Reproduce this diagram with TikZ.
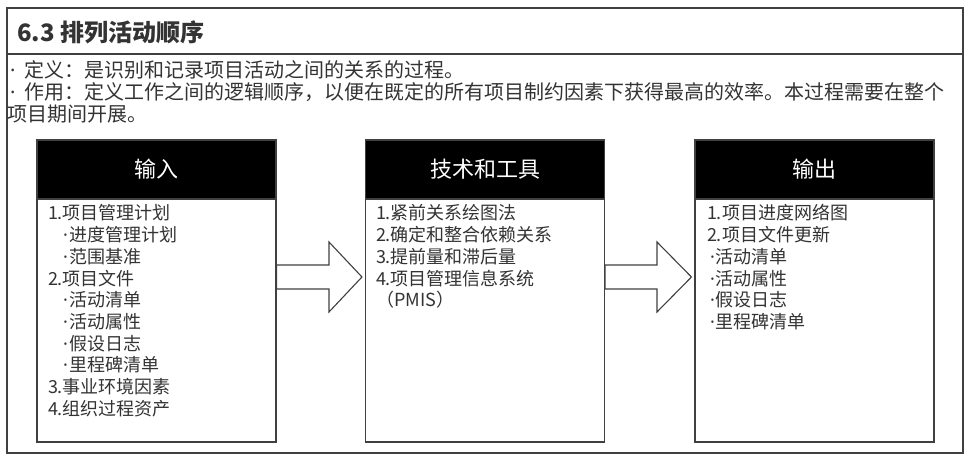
\documentclass[tikz,border=0pt]{standalone}
\usepackage{fontspec}
\setmainfont{Noto Sans CJK SC}
\newfontfamily\latinfont{Noto Sans}
\newcommand\mdot{{\latinfont ·}}
\usetikzlibrary{calc}
\definecolor{ink}{RGB}{51,51,51}
\definecolor{rule}{RGB}{64,64,64}
\begin{document}
\begin{tikzpicture}[x=1pt,y=-1pt,
  txt/.style={inner sep=0pt,outer sep=0pt,anchor=base west,text=ink},
  desc/.style={txt,font=\fontsize{20}{24}\selectfont},
  item/.style={txt,font=\fontsize{18}{21}\selectfont},
  box/.style={draw=rule,line width=1.1pt,fill=white,minimum width=239pt,minimum height=302pt,inner sep=0pt},
  head/.style={draw=rule,line width=1.1pt,fill=black,text=white,minimum width=239pt,minimum height=59pt,inner sep=0pt,font=\fontsize{22}{26}\selectfont},
  blockarr/.style={draw=rule,line width=1.1pt,fill=white}]
\path[use as bounding box] (0,0) rectangle (970,462);
% frame and title
\draw[rule,line width=1.4pt] (7,8) rectangle (963,453);
\draw[rule,line width=1.4pt] (7,54) -- (963,54);
\node[txt,font=\bfseries\fontsize{24}{28}\selectfont] (title) at (17,42) {6.3 排列活动顺序};
\node[desc] (def1) at (10,78) {\mdot\hspace{9.5pt}定义：是识别和记录项目活动之间的关系的过程。};
\node[desc] (def2) at (10,100) {\mdot\hspace{9.5pt}作用：定义工作之间的逻辑顺序，以便在既定的所有项目制约因素下获得最高的效率。本过程需要在整个};
\node[desc] (def3) at (8,122) {项目期间开展。};
% the three boxes
\node[box] (in) at (156.5,291) {};
\node[head,anchor=north] (inhead) at (in.north) {输入};
\node[box] (tt) at (485,291) {};
\node[head,anchor=north] (tthead) at (tt.north) {技术和工具};
\node[box] (out) at (814.5,291) {};
\node[head,anchor=north] (outhead) at (out.north) {输出};
% inputs
\node[item] (in1) at (48,220) {1.项目管理计划};
\node[item] (in2) at (63,241.7) {\mdot\hspace{2pt}进度管理计划};
\node[item] (in3) at (63,263.4) {\mdot\hspace{2pt}范围基准};
\node[item] (in4) at (48,285.1) {2.项目文件};
\node[item] (in5) at (63,306.8) {\mdot\hspace{2pt}活动清单};
\node[item] (in6) at (63,328.5) {\mdot\hspace{2pt}活动属性};
\node[item] (in7) at (63,350.2) {\mdot\hspace{2pt}假设日志};
\node[item] (in8) at (63,371.9) {\mdot\hspace{2pt}里程碑清单};
\node[item] (in9) at (48,393.6) {3.事业环境因素};
\node[item] (in10) at (48,415.3) {4.组织过程资产};
% tools and techniques
\node[item] (tt1) at (376,220) {1.紧前关系绘图法};
\node[item] (tt2) at (376,241.7) {2.确定和整合依赖关系};
\node[item] (tt3) at (376,263.4) {3.提前量和滞后量};
\node[item] (tt4) at (376,285.1) {4.项目管理信息系统};
\node[item] (tt5) at (376,306.8) {（PMIS）};
% outputs
\node[item] (out1) at (707,220) {1.项目进度网络图};
\node[item] (out2) at (707,241.7) {2.项目文件更新};
\node[item] (out3) at (710,263.4) {\mdot\hspace{1pt}活动清单};
\node[item] (out4) at (710,285.1) {\mdot\hspace{1pt}活动属性};
\node[item] (out5) at (710,306.8) {\mdot\hspace{1pt}假设日志};
\node[item] (out6) at (710,328.5) {\mdot\hspace{1pt}里程碑清单};
% block arrows
\draw[blockarr] (in.east |- 0,265) -| (329,242) -- ($(tt.west |- 0,277)+(-3,0)$) -- (329,312) |- (in.east |- 0,289) -- cycle;
\draw[blockarr] (tt.east |- 0,265) -| (657,242) -- ($(out.west |- 0,277)+(-3,0)$) -- (657,312) |- (tt.east |- 0,289) -- cycle;
\end{tikzpicture}
\end{document}
